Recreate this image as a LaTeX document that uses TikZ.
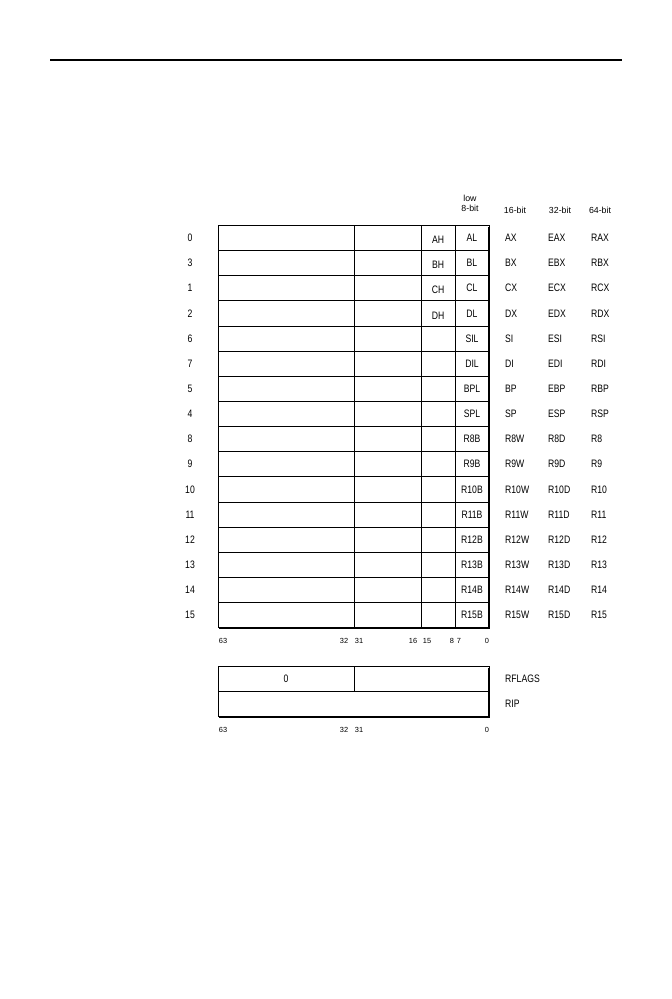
\documentclass[tikz,border=0pt]{standalone}
\usepackage{fontspec}
\setmainfont{Liberation Sans}
\newfontfamily\regfont[FakeStretch=0.8]{Liberation Sans}
\usetikzlibrary{positioning}

\begin{document}
\begin{tikzpicture}[
    x=1pt, y=-1pt,
    reg/.style={inner sep=0pt, font=\regfont\fontsize{10.8}{11}\selectfont},
    regname/.style={reg, anchor=west},
    bitnum/.style={inner sep=0pt, font=\fontsize{7.4}{8}\selectfont},
    head/.style={inner sep=0pt, align=center, font=\fontsize{8.8}{10.4}\selectfont},
    thin/.style={line width=0.8pt},
    shade/.style={line width=2.6pt}
]
\useasboundingbox (0,0) rectangle (672,999);
\draw[line width=1.1pt] (50,60) coordinate (rule_l) -- (622,60) coordinate (rule_r);

\coordinate (gtl) at (218,225.5);
\coordinate (gbr) at (489,627.6);
\draw[thin] (gtl) rectangle (gbr);
\foreach \x in {354,421,455}
    \draw[thin] (\x,225.5) -- (\x,627.6);
\foreach \i in {1,...,15}
    \draw[thin] (218,225.5+25.13*\i) -- (489,225.5+25.13*\i);
\draw[shade] (489,227) -- (489,628.4);
\draw[line width=1.6pt] (219,627.8) -- (490,627.8);

\node[head] (h8) at (470,203.5) {low\\8-bit};
\node[head] (h16) at (515,210.5) {16-bit};
\node[head] (h32) at (560,210.5) {32-bit};
\node[head] (h64) at (600,210.5) {64-bit};

\foreach \n/\hi/\lo/\w/\d/\q [count=\i from 0] in {
    0/AH/AL/AX/EAX/RAX, 3/BH/BL/BX/EBX/RBX, 1/CH/CL/CX/ECX/RCX, 2/DH/DL/DX/EDX/RDX,
    6//SIL/SI/ESI/RSI, 7//DIL/DI/EDI/RDI, 5//BPL/BP/EBP/RBP, 4//SPL/SP/ESP/RSP,
    8//R8B/R8W/R8D/R8, 9//R9B/R9W/R9D/R9, 10//R10B/R10W/R10D/R10, 11//R11B/R11W/R11D/R11,
    12//R12B/R12W/R12D/R12, 13//R13B/R13W/R13D/R13, 14//R14B/R14W/R14D/R14, 15//R15B/R15W/R15D/R15}
{
    \pgfmathsetmacro{\yc}{238+25.13*\i}
    \node[reg] (num\i) at (190,\yc) {\n};
    \node[reg] (hi\i) at (438,\yc+2) {\hi};
    \node[reg] (lo\i) at (472,\yc) {\lo};
    \node[regname] (w\i) at (505,\yc) {\w};
    \node[regname] (d\i) at (548,\yc) {\d};
    \node[regname] (q\i) at (591,\yc) {\q};
}

\foreach \b/\x in {63/223,32/344,31/359,16/413,15/427,8/452,7/459,0/487}
    \node[bitnum] (gb\b) at (\x,641) {\b};

\coordinate (ftl) at (218,666);
\coordinate (fbr) at (489,716.6);
\draw[thin] (ftl) rectangle (fbr);
\draw[thin] (218,691.3) -- (489,691.3);
\draw[thin] (354,666) -- (354,691.3);
\draw[shade] (489,667.5) -- (489,717.4);
\draw[line width=1.6pt] (219,716.8) -- (490,716.8);
\node[reg] (fz) at (286,679) {0};
\node[regname] (rflags) at (505,679) {RFLAGS};
\node[regname] (rip) at (505,704) {RIP};

\foreach \b/\x in {63/223,32/344,31/359,0/487}
    \node[bitnum] (fb\b) at (\x,729.5) {\b};
\end{tikzpicture}
\end{document}
